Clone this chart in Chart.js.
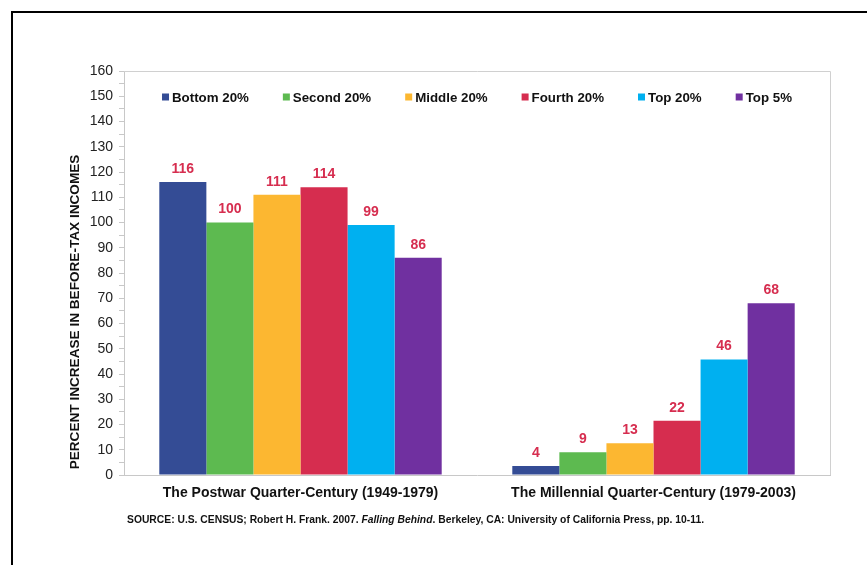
<!DOCTYPE html>
<html>
<head>
<meta charset="utf-8">
<script src="https://cdn.jsdelivr.net/npm/chart.js@4.4.0/dist/chart.umd.min.js"></script>
<style>
  body { margin: 0; background: #fff; }
  #wrap { width: 867px; height: 565px; position: relative; }
</style>
</head>
<body>
<div id="wrap"><canvas id="chart"></canvas></div>
<script>
// categories (two periods)
const periods = ['The Postwar Quarter-Century (1949-1979)', 'The Millennial Quarter-Century (1979-2003)'];
// income groups
const groups = ['Bottom 20%', 'Second 20%', 'Middle 20%', 'Fourth 20%', 'Top 20%', 'Top 5%'];
const groupColors = ['#344c95', '#5dba50', '#fcb731', '#d62d4f', '#00b0f0', '#7030a0'];
// percent increase per group: [postwar, millennial]
const bottom20 = [116, 3.6];
const second20 = [100, 9];
const middle20 = [111, 12.6];
const fourth20 = [114, 21.5];
const top20 = [99, 45.7];
const top5 = [86, 68];
const seriesValues = [bottom20, second20, middle20, fourth20, top20, top5];
// printed value labels above bars
const bottom20Labels = ['116', '4'];
const second20Labels = ['100', '9'];
const middle20Labels = ['111', '13'];
const fourth20Labels = ['114', '22'];
const top20Labels = ['99', '46'];
const top5Labels = ['86', '68'];
const seriesLabels = [bottom20Labels, second20Labels, middle20Labels, fourth20Labels, top20Labels, top5Labels];

const yTitle = 'PERCENT INCREASE IN BEFORE-TAX INCOMES';
const FONT = 'Arial, "Liberation Sans", sans-serif';

const datasets = groups.map((g, i) => ({
  label: g,
  data: seriesValues[i],
  valueLabels: seriesLabels[i],
  backgroundColor: groupColors[i],
  borderWidth: 0,
  categoryPercentage: 0.8,
  barPercentage: 1.0
}));

// value labels on top of the bars
const valueLabelPlugin = {
  id: 'valueLabels',
  afterDatasetsDraw(chart) {
    const ctx = chart.ctx;
    ctx.save();
    ctx.font = 'bold 14px ' + FONT;
    ctx.fillStyle = '#d62d4f';
    ctx.textAlign = 'center';
    ctx.textBaseline = 'bottom';
    chart.data.datasets.forEach((ds, i) => {
      chart.getDatasetMeta(i).data.forEach((bar, j) => {
        ctx.fillText(ds.valueLabels[j], bar.x, bar.y - 6);
      });
    });
    ctx.restore();
  }
};

// legend inside the plot area, y title, frame, plot border and source line
const decorPlugin = {
  id: 'decor',
  afterDraw(chart) {
    const ctx = chart.ctx;
    const area = chart.chartArea;
    ctx.save();

    // plot border (top / right)
    ctx.strokeStyle = '#d0d0d0';
    ctx.lineWidth = 1;
    ctx.beginPath();
    ctx.moveTo(area.left, area.top + 0.5);
    ctx.lineTo(area.right + 0.5, area.top + 0.5);
    ctx.lineTo(area.right + 0.5, area.bottom);
    ctx.stroke();

    // legend
    ctx.font = 'bold 13.3px ' + FONT;
    ctx.textBaseline = 'middle';
    ctx.textAlign = 'left';
    const box = 7, boxGap = 3, itemGap = 34;
    const items = chart.data.datasets.map(ds => ({ text: ds.label, color: ds.backgroundColor, w: box + boxGap + ctx.measureText(ds.label).width }));
    const total = items.reduce((s, it) => s + it.w, 0) + itemGap * (items.length - 1);
    let x = (area.left + area.right) / 2 - total / 2;
    const ly = 97;
    items.forEach(it => {
      ctx.fillStyle = it.color;
      ctx.fillRect(x, ly - box / 2, box, box);
      ctx.fillStyle = '#111';
      ctx.fillText(it.text, x + box + boxGap, ly + 1);
      x += it.w + itemGap;
    });

    // y axis title
    ctx.save();
    ctx.translate(75, 312);
    ctx.rotate(-Math.PI / 2);
    ctx.font = 'bold 13.6px ' + FONT;
    ctx.textAlign = 'center';
    ctx.fillStyle = '#111';
    ctx.fillText(yTitle, 0, 0);
    ctx.restore();

    // outer frame (top and left)
    ctx.strokeStyle = '#000';
    ctx.lineWidth = 2;
    ctx.beginPath();
    ctx.moveTo(12, 565);
    ctx.lineTo(12, 12);
    ctx.lineTo(867, 12);
    ctx.stroke();

    // source line
    const parts = [
      ['SOURCE: U.S. CENSUS; Robert H. Frank. 2007. ', 'bold'],
      ['Falling Behind', 'italic bold'],
      ['. Berkeley, CA: University of California Press, pp. 10-11.', 'bold']
    ];
    const size = 11;
    ctx.textAlign = 'left';
    let w = 0;
    parts.forEach(p => { ctx.font = p[1] + ' ' + size + 'px ' + FONT; w += ctx.measureText(p[0]).width; });
    const target = 577;
    ctx.translate(127, 520);
    ctx.scale(target / w, 1);
    ctx.fillStyle = '#111';
    let sx = 0;
    parts.forEach(p => {
      ctx.font = p[1] + ' ' + size + 'px ' + FONT;
      ctx.fillText(p[0], sx, 0);
      sx += ctx.measureText(p[0]).width;
    });
    ctx.restore();
  }
};

new Chart(document.getElementById('chart'), {
  type: 'bar',
  data: { labels: periods, datasets: datasets },
  plugins: [valueLabelPlugin, decorPlugin],
  options: {
    responsive: true,
    maintainAspectRatio: false,
    animation: false,
    layout: { padding: { left: 0, right: 37, top: 71, bottom: 0 } },
    plugins: {
      legend: { display: false },
      tooltip: { enabled: false }
    },
    scales: {
      x: {
        grid: { display: false },
        border: { display: true, color: '#c8c8c8', width: 1 },
        ticks: { color: '#111', font: { family: FONT, size: 14, weight: 'bold' }, padding: 2 },
        afterFit: s => { s.height = 90; }
      },
      y: {
        min: 0,
        max: 160,
        grid: { drawOnChartArea: false, drawTicks: true, tickLength: 5, color: '#c8c8c8' },
        border: { display: true, color: '#c8c8c8', width: 1 },
        ticks: {
          stepSize: 5,
          autoSkip: false,
          padding: 6,
          color: '#222',
          font: { family: FONT, size: 14 },
          callback: v => (v % 10 === 0 ? String(v) : '')
        },
        afterFit: s => { s.width = 124; }
      }
    }
  }
});
</script>
</body>
</html>
